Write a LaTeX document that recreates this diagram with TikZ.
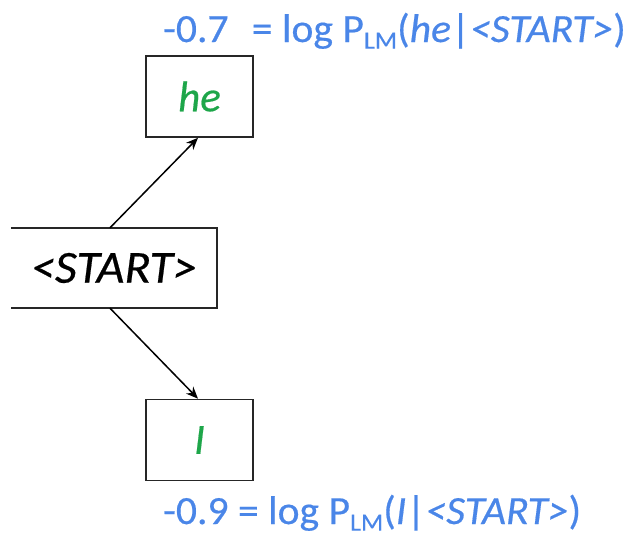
\documentclass[tikz,border=0pt]{standalone}
\usepackage{fontspec}
\setmainfont{Carlito}[FakeBold=0.4, ItalicFeatures={FakeBold=0.4}]
\usetikzlibrary{arrows.meta}
\definecolor{labelblue}{RGB}{74,134,232}
\definecolor{wordgreen}{RGB}{30,166,74}
\newcommand{\lmsub}{\raisebox{-0.35ex}{\fontsize{25}{25}\selectfont LM}}
\newcommand{\wide}[1]{\scalebox{1.04}[1]{#1}}
\begin{document}
\begin{tikzpicture}[x=1pt,y=-1pt,
  boxline/.style={draw=black!85, line width=1.6pt},
  wordbox/.style={boxline, minimum width=107pt, minimum height=81pt, inner sep=0pt},
  word/.style={font=\fontsize{43}{50}\selectfont\itshape, text=wordgreen},
  edge/.style={line width=1.5pt, -{Stealth[length=12pt,width=10pt]}},
  score/.style={anchor=base west, inner sep=0pt, text=labelblue, font=\fontsize{40}{48}\selectfont}]
\useasboundingbox (0,0) rectangle (633,538);

% start node, its left side runs off the page
\node[inner sep=0pt, minimum width=206pt, minimum height=80pt,
      font=\fontsize{46}{54}\selectfont\itshape] (start) at (114,268) {\scalebox{1.05}[1]{<START>}};
\draw[boxline] (start.north west) -- (start.north east) -- (start.south east) -- (start.south west);

% candidate next words
\node[wordbox, word] (he) at (199.5,96.5) {he};
\node[wordbox, word] (i) at (199.5,440) {I};

% expansions
\draw[edge] ([xshift=-4pt]start.north) -- ([xshift=-1.5pt]he.south);
\draw[edge] ([xshift=-4pt]start.south) -- ([xshift=-1.5pt]i.north);

% language-model scores
\node[score] (she) at (163,42) {\wide{-0.7\,\, = log P\lmsub(\textit{he}|\textit{<START>})}};
\node[score] (si) at (163,524) {\wide{-0.9 = log P\lmsub(\textit{I}|\textit{<START>})}};
\end{tikzpicture}
\end{document}
